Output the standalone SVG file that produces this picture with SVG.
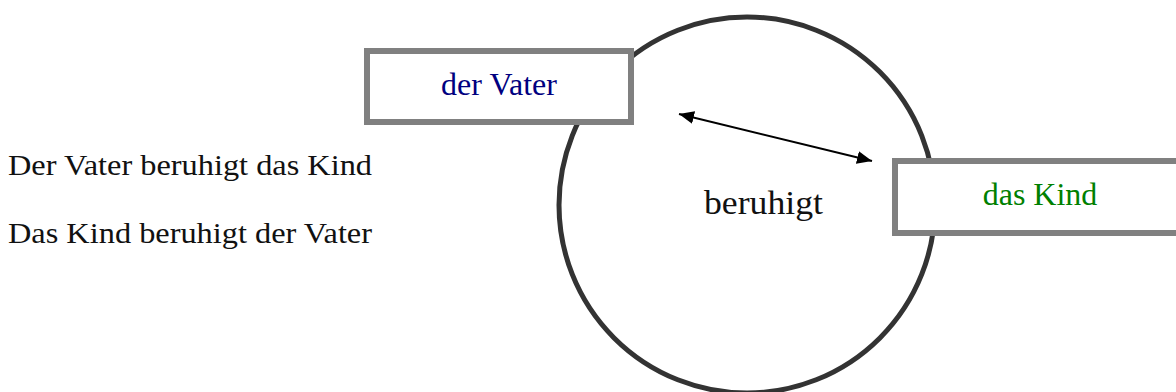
<svg xmlns="http://www.w3.org/2000/svg" width="1176" height="392" viewBox="0 0 1176 392">
  <defs>
    <style>
      .serif { font-family: "Liberation Serif", "Times New Roman", serif; }
      .box { fill: #ffffff; stroke: #808080; stroke-width: 6; }
      .label { font-size: 32px; text-anchor: middle; }
      .sentence { font-size: 30px; fill: #111111; }
      .link { stroke: #000000; stroke-width: 2; fill: none; }
    </style>
    <marker id="head" viewBox="0 0 14 12" refX="14" refY="6" markerWidth="15" markerHeight="13" markerUnits="userSpaceOnUse" orient="auto-start-reverse">
      <path d="M0,0 L14,6 L0,12 Z" fill="#000000"/>
    </marker>
  </defs>

  <rect width="1176" height="392" fill="#ffffff"/>

  <!-- sentences on the left -->
  <g id="sentences" class="serif">
    <text class="sentence" x="8" y="175" textLength="364" lengthAdjust="spacingAndGlyphs">Der Vater beruhigt das Kind</text>
    <text class="sentence" x="8" y="243" textLength="364" lengthAdjust="spacingAndGlyphs">Das Kind beruhigt der Vater</text>
  </g>

  <!-- verb circle -->
  <g id="verb" class="serif">
    <circle cx="747" cy="205" r="188" fill="none" stroke="#333333" stroke-width="5"/>
    <text x="704" y="214" font-size="33" fill="#111111" textLength="119" lengthAdjust="spacingAndGlyphs">beruhigt</text>
  </g>

  <!-- subject node -->
  <g id="vater" class="serif">
    <rect class="box" x="367" y="51" width="264" height="71"/>
    <text class="label" x="499" y="95" fill="#000080">der Vater</text>
  </g>

  <!-- object node -->
  <g id="kind" class="serif">
    <rect class="box" x="895" y="161" width="300" height="72"/>
    <text class="label" x="1040" y="205" fill="#008000">das Kind</text>
  </g>

  <!-- connectors -->
  <g id="connectors">
    <line class="link" x1="679" y1="114" x2="872" y2="161" marker-start="url(#head)" marker-end="url(#head)"/>
  </g>
</svg>
